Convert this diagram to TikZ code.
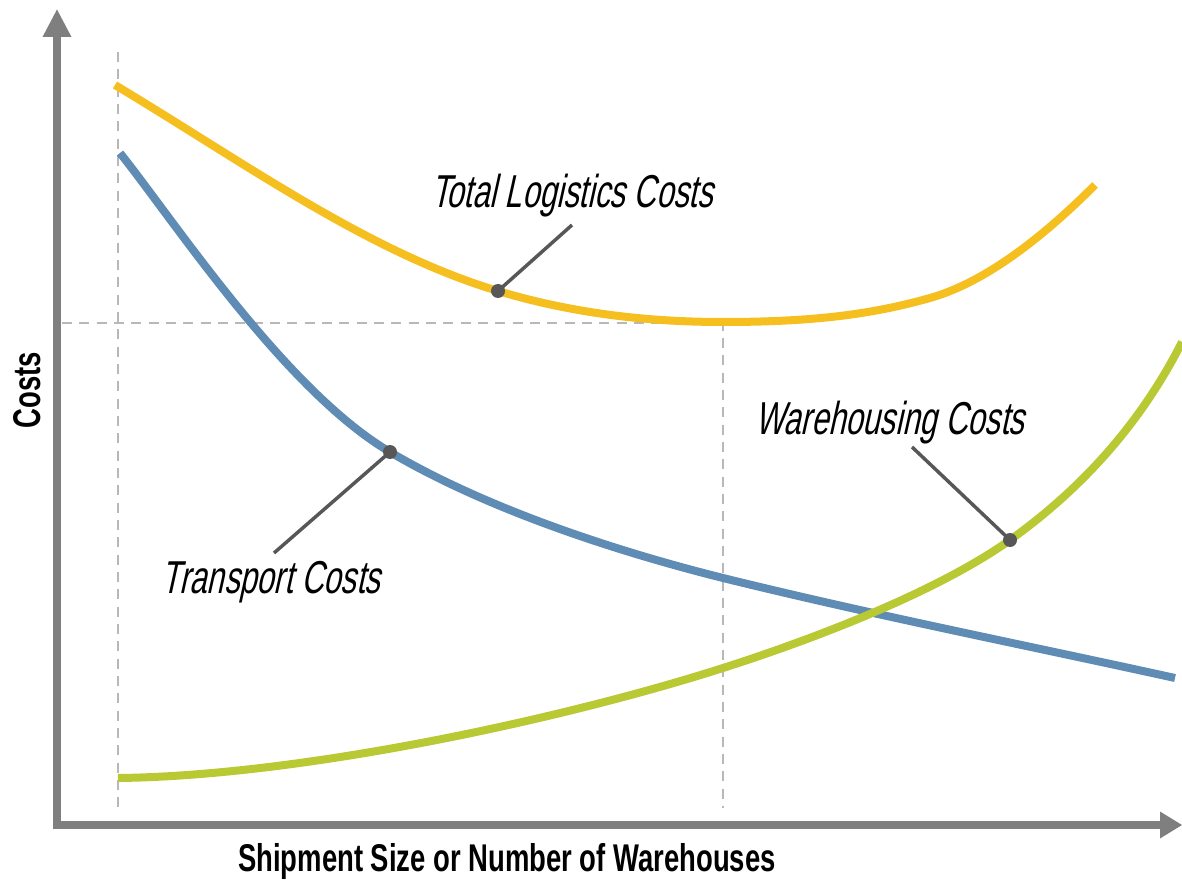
\documentclass[tikz,border=0pt]{standalone}
\usepackage{fontspec}
\setmainfont{Liberation Sans}
\newfontfamily\labfont[FakeStretch=0.67,FakeSlant=0.22]{Liberation Sans}
\newfontfamily\axfont[FakeStretch=0.71]{Liberation Sans Bold}
\definecolor{ycol}{HTML}{F6BF20}
\definecolor{bcol}{HTML}{5F8CB4}
\definecolor{gcol}{HTML}{B8C933}
\definecolor{axcol}{HTML}{7F7F7F}
\definecolor{dotcol}{HTML}{575757}
\definecolor{dashcol}{HTML}{B8B8B8}
\tikzset{
  axis/.style={draw=axcol, line width=6.5pt, line join=miter},
  guide/.style={draw=dashcol, line width=2.2pt, dash pattern=on 7.5pt off 5.5pt},
  curve/.style={line width=6pt, line cap=butt},
  leader/.style={draw=dotcol, line width=2.6pt},
  dot/.style={circle, fill=dotcol, inner sep=0pt, minimum size=10.5pt},
  curvelabel/.style={font=\labfont\fontsize{34.6}{34.6}\selectfont, text=black, inner sep=0pt, anchor=base},
  axlabel/.style={font=\axfont\fontsize{29}{29}\selectfont, text=black, inner sep=0pt},
}
\begin{document}
\begin{tikzpicture}[x=0.75pt,y=-0.75pt]
\useasboundingbox (0,0) rectangle (1182,880);
% guides
\coordinate (g1t) at (118,52);
\coordinate (g1b) at (118,808);
\coordinate (gl) at (62,323);
\coordinate (gm) at (723,323);
\coordinate (g2b) at (723,808);
\draw[guide] (g1t) -- (g1b);
\draw[guide] (gl) -- (gm) -- (g2b);
% axes
\coordinate (Ybase) at (57,36);
\coordinate (O) at (57,825);
\coordinate (Xbase) at (1161,825);
\draw[axis] (Ybase) -- (O) -- (Xbase);
\fill[axcol] (42.5,37) -- (57,9.5) -- (71.5,37) -- cycle;
\fill[axcol] (1160,811.5) -- (1182,825) -- (1160,838.5) -- cycle;
% total logistics costs
\draw[curve, draw=ycol] (115,85)
  .. controls (245,163) and (368,252) .. (498,291)
  .. controls (573,313.5) and (648,322) .. (723,322)
  .. controls (810,322) and (870,315) .. (930,298)
  .. controls (990,281) and (1050,230) .. (1095,185);
% transport costs
\draw[curve, draw=bcol] (120,153)
  .. controls (175,222) and (285,390) .. (390,452)
  .. controls (490,511) and (623,553) .. (723,578)
  .. controls (873,615) and (1025,645) .. (1175,678);
% warehousing costs
\draw[curve, draw=gcol] (118,778)
  .. controls (300,776) and (560,720) .. (723,668)
  .. controls (820,637) and (940,590) .. (1010,540)
  .. controls (1080,490) and (1140,425) .. (1182,342);
% dots & leaders
\node[dot] (dy) at (498,291) {};
\node[dot] (db) at (390,452) {};
\node[dot] (dg) at (1010,540) {};
\coordinate (ly) at (572,225);
\coordinate (lb) at (274,553);
\coordinate (lg) at (912,447);
\draw[leader] (dy.center) -- (ly);
\draw[leader] (db.center) -- (lb);
\draw[leader] (dg.center) -- (lg);
% labels
\node[curvelabel] (ty) at (572,208) {Total Logistics Costs};
\node[curvelabel] (tb) at (271,593) {Transport Costs};
\node[curvelabel] (tg) at (890,435) {Warehousing Costs};
\node[axlabel, anchor=base] (xl) at (507,871) {Shipment Size or Number of Warehouses};
\node[axlabel, rotate=90, anchor=base] (yl) at (40,390) {Costs};
\end{tikzpicture}
\end{document}
